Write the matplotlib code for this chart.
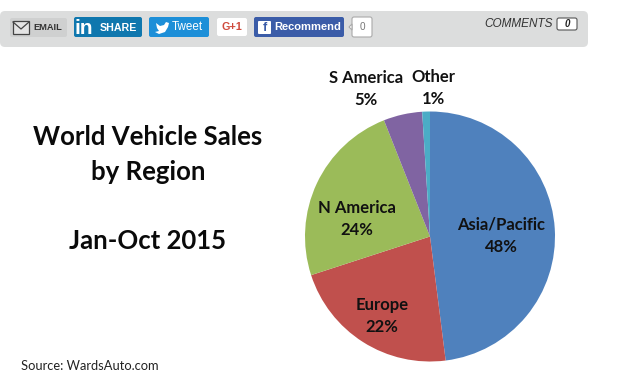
import matplotlib
matplotlib.use("Agg")
import matplotlib.pyplot as plt
from matplotlib.patches import FancyBboxPatch, Polygon, Rectangle

regions = ['Asia/Pacific', 'Europe', 'N America', 'S America', 'Other']
shares = [48, 22, 24, 5, 1]
colors = ['#4f81bd', '#c0504d', '#9bbb59', '#8064a2', '#4bacc6']
title_lines = ['World Vehicle Sales', 'by Region', 'Jan-Oct 2015']
source = 'Source: WardsAuto.com'

# where the label of each slice goes, in pixels of the picture
label_pos = [(501, 236), (382, 316), (357, 219), (366, 89), (433, 88)]

W, H = 620, 390
fig = plt.figure(figsize=(W / 100, H / 100), dpi=100, facecolor='white')

# pie, center about (430, 236), radius 125 px
r = 125
cx, cy = 430, 236.5
ax = fig.add_axes([(cx - r) / W, 1 - (cy + r) / H, 2 * r / W, 2 * r / H])
ax.pie(shares, colors=colors, startangle=90, counterclock=False, radius=1,
       wedgeprops={'linewidth': 0})
ax.set_xlim(-1, 1)
ax.set_ylim(-1, 1)

# overlay axes in picture pixels, for the share bar and the text
bg = fig.add_axes([0, 0, 1, 1])
bg.set_xlim(0, W)
bg.set_ylim(H, 0)
bg.axis('off')


def box(x, y, w, h, fc, ec='none', r=2, lw=0.8):
    bg.add_patch(FancyBboxPatch((x + r, y + r), w - 2 * r, h - 2 * r,
                                boxstyle=f'round,pad={r}', fc=fc, ec=ec, lw=lw))


# share bar
box(0, 11, 588, 36, '#dcdddd', r=5)

# email
box(10, 18, 57, 19, '#cfd0d0', r=2)
bg.add_patch(Rectangle((13, 21), 16, 13, fc='#e4e4e4', ec='#444444', lw=0.9))
bg.plot([13, 21, 29], [22, 29, 22], color='#444444', lw=0.9)
bg.text(33, 28, 'EMAIL', fontsize=6.7, fontweight='bold', color='#333333',
        family='Liberation Sans', va='center')

# linkedin
box(74, 17, 68, 20, '#0f77ae')
bg.text(75, 28.5, 'in', fontsize=15, fontweight='bold', color='white',
        family='Liberation Sans', va='center')
bg.text(100, 28, 'SHARE', fontsize=7.7, fontweight='bold', color='white',
        family='Liberation Sans', va='center')

# twitter
box(149, 17, 60, 20, '#1d8fd8')
bg.add_patch(Polygon([[156, 23], [160, 26], [164, 25], [166, 22], [169, 23], [168, 27],
                      [165, 32], [159, 34], [155, 32], [159, 31], [157, 28]],
                     fc='white', ec='none'))
bg.text(172, 27, 'Tweet', fontsize=8.4, color='white',
        family='Liberation Sans', va='center')

# google
box(217, 18, 30, 18, 'white')
bg.text(232, 27.5, 'G+1', fontsize=7.8, fontweight='bold', color='#cf4a3c',
        family='Liberation Sans', va='center', ha='center')

# facebook
box(254, 17, 90, 20, '#3b5ca8')
box(258, 21, 13, 13, 'white', r=1)
bg.text(264.5, 28, 'f', fontsize=9, fontweight='bold', color='#3b5ca8',
        family='Liberation Sans', va='center', ha='center')
bg.text(274, 27.5, 'Recommend', fontsize=8, fontweight='bold', color='white',
        family='Liberation Sans', va='center')

# like counter
box(352, 17, 20, 20, 'white', ec='#aaaaaa', r=2)
bg.add_patch(Polygon([[352, 24], [349, 27], [352, 30]], fc='white', ec='#aaaaaa', lw=0.8))
bg.text(362, 27.5, '0', fontsize=7.2, color='#777777',
        family='Liberation Sans', va='center', ha='center')

# comments
bg.text(484, 24, 'COMMENTS', fontsize=8.5, style='italic', color='#333333',
        family='Liberation Sans', va='center')
box(557, 18, 20, 12, 'white', ec='#555555', r=2)
bg.text(567, 24, '0', fontsize=7, style='italic', fontweight='bold', color='#222222',
        family='Liberation Sans', va='center', ha='center')

for name, share, (x, y) in zip(regions, shares, label_pos):
    bg.text(x, y, f'{name}\n{share}%', fontsize=12, fontweight='bold', color='#111111',
            family='Lato', ha='center', va='center', ma='center', linespacing=1.5)

bg.text(148, 137, title_lines[0], fontsize=18.5, fontweight='bold', color='#0a0a0a',
        family='Lato', ha='center', va='center')
bg.text(148, 172, title_lines[1], fontsize=18.5, fontweight='bold', color='#0a0a0a',
        family='Lato', ha='center', va='center')
bg.text(148, 241, title_lines[2], fontsize=18.5, fontweight='bold', color='#0a0a0a',
        family='Lato', ha='center', va='center')
bg.text(21, 366, source, fontsize=9.3, color='#222222', family='Lato', va='center')

fig.savefig('out.png', dpi=100)
